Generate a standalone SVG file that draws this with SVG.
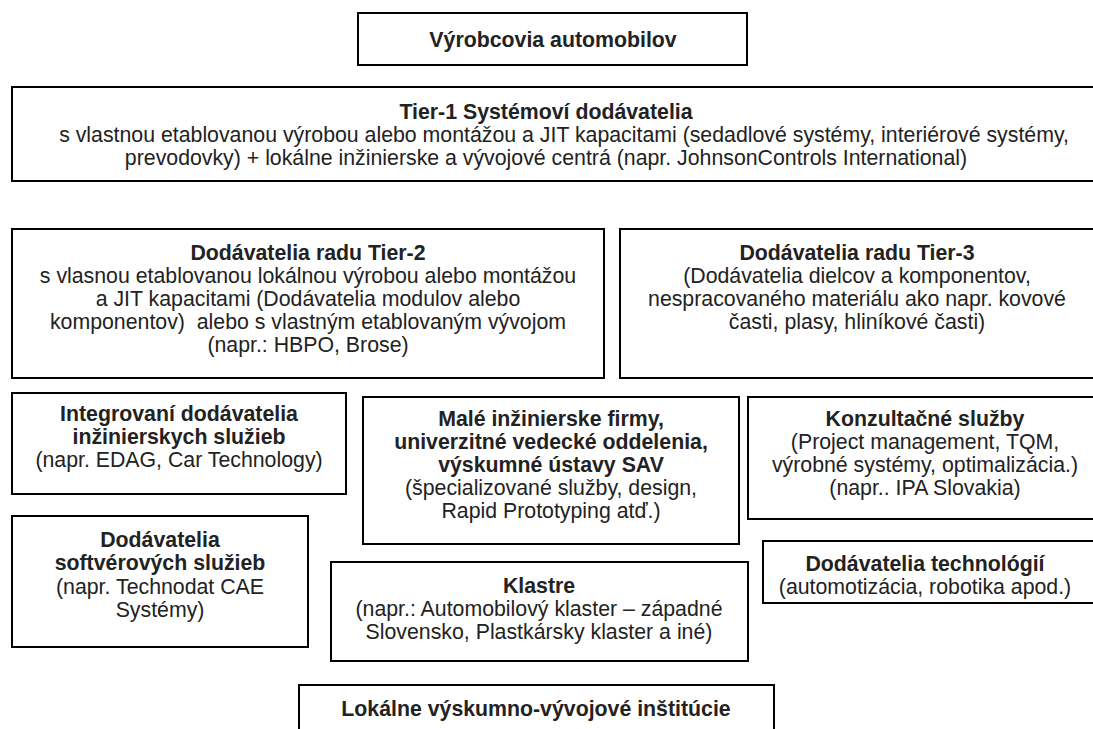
<svg xmlns="http://www.w3.org/2000/svg" width="1093" height="729" viewBox="0 0 1093 729">
<style>
rect.box{fill:#fff;stroke:#000;stroke-width:2}
text{font-family:"Liberation Sans",Arial,sans-serif;font-size:21.3px;fill:#222;text-anchor:middle}
text.b{font-weight:bold}
</style>
<rect width="1093" height="729" fill="#fff"/>
<g id="vyrobcovia">
<rect class="box" x="358" y="13" width="389" height="52"/>
<text class="b" x="553" y="47">Výrobcovia automobilov</text>
</g>
<g id="tier1">
<rect class="box" x="12" y="87" width="1100" height="94"/>
<text class="b" x="546" y="119">Tier-1 Systémoví dodávatelia</text>
<text x="564" y="142">s vlastnou etablovanou výrobou alebo montážou a JIT kapacitami (sedadlové systémy, interiérové systémy,</text>
<text x="546" y="165">prevodovky) + lokálne inžinierske a vývojové centrá (napr. JohnsonControls International)</text>
</g>
<g id="tier2">
<rect class="box" x="12" y="229" width="592" height="149"/>
<text class="b" x="308" y="260">Dodávatelia radu Tier-2</text>
<text x="308" y="283">s vlasnou etablovanou lokálnou výrobou alebo montážou</text>
<text x="308" y="306">a JIT kapacitami (Dodávatelia modulov alebo</text>
<text x="308" y="329" xml:space="preserve">komponentov)  alebo s vlastným etablovaným vývojom</text>
<text x="308" y="352">(napr.: HBPO, Brose)</text>
</g>
<g id="tier3">
<rect class="box" x="620" y="229" width="500" height="149"/>
<text class="b" x="857" y="260">Dodávatelia radu Tier-3</text>
<text x="857" y="283">(Dodávatelia dielcov a komponentov,</text>
<text x="857" y="306">nespracovaného materiálu ako napr. kovové</text>
<text x="857" y="329">časti, plasy, hliníkové časti)</text>
</g>
<g id="integrovani">
<rect class="box" x="12" y="393" width="334" height="101"/>
<text class="b" x="179" y="421">Integrovaní dodávatelia</text>
<text class="b" x="179" y="444">inžinierskych služieb</text>
<text x="179" y="467">(napr. EDAG, Car Technology)</text>
</g>
<g id="softver">
<rect class="box" x="12" y="516" width="296" height="131"/>
<text class="b" x="160" y="547">Dodávatelia</text>
<text class="b" x="160" y="570">softvérových služieb</text>
<text x="160" y="594">(napr. Technodat CAE</text>
<text x="160" y="617">Systémy)</text>
</g>
<g id="male">
<rect class="box" x="363" y="397" width="376" height="147"/>
<text class="b" x="551" y="426">Malé inžinierske firmy,</text>
<text class="b" x="551" y="449">univerzitné vedecké oddelenia,</text>
<text class="b" x="551" y="472">výskumné ústavy SAV</text>
<text x="551" y="495">(špecializované služby, design,</text>
<text x="551" y="518">Rapid Prototyping atď.)</text>
</g>
<g id="konzultacne">
<rect class="box" x="748" y="397" width="360" height="122"/>
<text class="b" x="925" y="426">Konzultačné služby</text>
<text x="925" y="449">(Project management, TQM,</text>
<text x="925" y="472">výrobné systémy, optimalizácia.)</text>
<text x="925" y="495">(napr.. IPA Slovakia)</text>
</g>
<g id="technologie">
<rect class="box" x="763" y="541" width="345" height="62"/>
<text class="b" x="925" y="571">Dodávatelia technológií</text>
<text x="925" y="594">(automotizácia, robotika apod.)</text>
</g>
<g id="klastre">
<rect class="box" x="331" y="562" width="417" height="99"/>
<text class="b" x="539" y="593">Klastre</text>
<text x="539" y="616">(napr.: Automobilový klaster – západné</text>
<text x="539" y="639">Slovensko, Plastkársky klaster a iné)</text>
</g>
<g id="lokalne">
<rect class="box" x="299" y="685" width="475" height="60"/>
<text class="b" x="536" y="716">Lokálne výskumno-vývojové inštitúcie</text>
</g>
<g id="connectors"></g>
</svg>
